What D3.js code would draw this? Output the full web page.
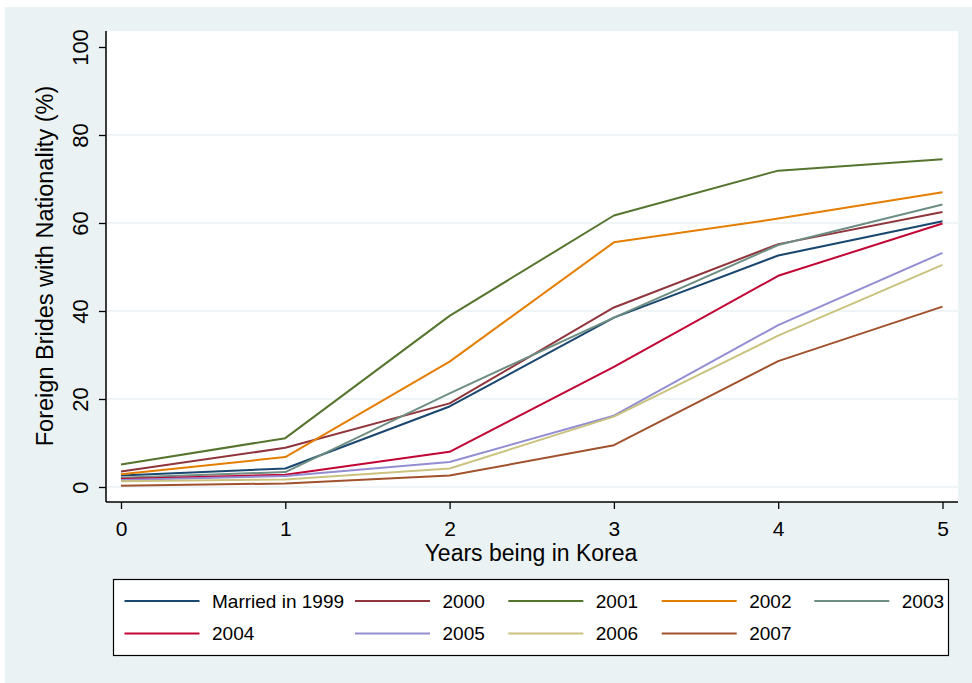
<!DOCTYPE html>
<html>
<head>
<meta charset="utf-8">
<script src="https://cdn.jsdelivr.net/npm/d3@7"></script>
<style>
  html, body { margin: 0; padding: 0; background: #ffffff; }
  svg { display: block; font-family: "Liberation Sans", Arial, sans-serif; }
</style>
</head>
<body>
<div id="chart"></div>
<script>
// years since arrival
const years = [0, 1, 2, 3, 4, 5];
const yTicks = [0, 20, 40, 60, 80, 100];
const cohortLabels = ["Married in 1999", "2000", "2001", "2002", "2003", "2004", "2005", "2006", "2007"];
const cohortColors = ["#1a476f", "#90353b", "#55752f", "#e37e00", "#6e8e84", "#c10534", "#938dd2", "#cac27e", "#a0522d"];

// share with nationality (%) per cohort
const married1999 = [2.6, 4.2, 18.3, 38.5, 52.6, 60.4];
const married2000 = [3.5, 8.9, 19.0, 40.8, 55.2, 62.5];
const married2001 = [5.1, 11.1, 38.9, 61.7, 71.9, 74.5];
const married2002 = [2.9, 6.8, 28.5, 55.6, 61.0, 67.0];
const married2003 = [2.1, 3.4, 21.3, 38.5, 55.0, 64.2];
const married2004 = [1.8, 2.8, 8.0, 27.3, 48.0, 59.9];
const married2005 = [1.6, 2.5, 5.7, 16.2, 36.8, 53.2];
const married2006 = [1.3, 1.7, 4.2, 16.0, 34.4, 50.5];
const married2007 = [0.3, 0.8, 2.6, 9.5, 28.6, 41.0];

const series = [married1999, married2000, married2001, married2002, married2003,
                married2004, married2005, married2006, married2007];

const W = 972, H = 683;
const svg = d3.select("#chart").append("svg")
    .attr("width", W)
    .attr("height", H);

// outer graph region
svg.append("rect")
    .attr("x", 5).attr("y", 7)
    .attr("width", W - 5).attr("height", H - 7)
    .attr("fill", "#eaf2f3");

// plot region
const plot = { left: 106, right: 958, top: 31, bottom: 502 };
svg.append("rect")
    .attr("x", plot.left).attr("y", plot.top)
    .attr("width", plot.right - plot.left)
    .attr("height", plot.bottom - plot.top)
    .attr("fill", "#ffffff");

const x = d3.scaleLinear().domain([0, 5]).range([121, 942.5]);
const y = d3.scaleLinear().domain([0, 100]).range([487, 47]);

//gridlines (none at the top tick)
svg.append("g")
    .selectAll("line")
    .data(yTicks.filter(d => d < 100))
    .join("line")
        .attr("x1", plot.left).attr("x2", plot.right)
        .attr("y1", d => y(d)).attr("y2", d => y(d))
        .attr("stroke", "#eaf2f3")
        .attr("stroke-width", 1.5);

// lines
const line = d3.line()
    .x((d, i) => x(years[i]))
    .y(d => y(d));

svg.append("g")
    .selectAll("path")
    .data(series)
    .join("path")
        .attr("d", line)
        .attr("fill", "none")
        .attr("stroke", (d, i) => cohortColors[i])
        .attr("stroke-width", 2)
        .attr("stroke-linejoin", "round");

// y axis
const yAxis = svg.append("g")
    .attr("transform", `translate(${plot.left},0)`)
    .call(d3.axisLeft(y).tickValues(yTicks).tickSize(7).tickPadding(0).tickFormat(d3.format("d")));
yAxis.select(".domain").remove();
yAxis.append("line")
    .attr("x1", 0).attr("x2", 0)
    .attr("y1", plot.top).attr("y2", plot.bottom)
    .attr("stroke", "#000").attr("stroke-width", 1.5);
yAxis.selectAll(".tick line").attr("stroke", "#000").attr("stroke-width", 1.3);
yAxis.selectAll(".tick text")
    .attr("x", 0).attr("dy", null)
    .attr("transform", "translate(-26,0) rotate(-90)")
    .attr("text-anchor", "middle")
    .attr("dominant-baseline", "central")
    .attr("fill", "#000")
    .style("font-size", "22px");

//y axis label
svg.append("text")
    .attr("transform", "translate(45,266) rotate(-90)")
    .attr("text-anchor", "middle")
    .attr("dominant-baseline", "central")
    .style("font-size", "23.5px")
    .text("Foreign Brides with Nationality (%)");

// x axis
const xAxis = svg.append("g")
    .attr("transform", `translate(0,${plot.bottom})`)
    .call(d3.axisBottom(x).tickValues(years).tickSize(7).tickPadding(12).tickFormat(d3.format("d")));
xAxis.select(".domain").remove();
xAxis.append("line")
    .attr("x1", plot.left).attr("x2", plot.right)
    .attr("y1", 0).attr("y2", 0)
    .attr("stroke", "#000").attr("stroke-width", 1.5);
xAxis.selectAll(".tick line").attr("stroke", "#000").attr("stroke-width", 1.3);
xAxis.selectAll(".tick text")
    .attr("fill", "#000")
    .style("font-size", "21px");

//x axis label
svg.append("text")
    .attr("x", 531)
    .attr("y", 561)
    .attr("text-anchor", "middle")
    .style("font-size", "23px")
    .text("Years being in Korea");

// legend
svg.append("rect")
    .attr("x", 113.5).attr("y", 579.5)
    .attr("width", 835).attr("height", 76)
    .attr("fill", "#ffffff")
    .attr("stroke", "#000")
    .attr("stroke-width", 1.2);

// first column is wider because of its longer label
const legendCols = [124.5, 355, 508.3, 661.7, 814.3];

const legend = svg.append("g")
    .selectAll("g")
    .data(cohortLabels)
    .join("g")
        .attr("transform", (d, i) => `translate(${legendCols[i % 5]},${601 + Math.floor(i / 5) * 32.5})`);

legend.append("line")
    .attr("x1", 0).attr("x2", 75)
    .attr("stroke", (d, i) => cohortColors[i])
    .attr("stroke-width", 2.2);

legend.append("text")
    .attr("x", 87.5)
    .attr("dominant-baseline", "central")
    .style("font-size", "19px")
    .text(d => d);
</script>
</body>
</html>
